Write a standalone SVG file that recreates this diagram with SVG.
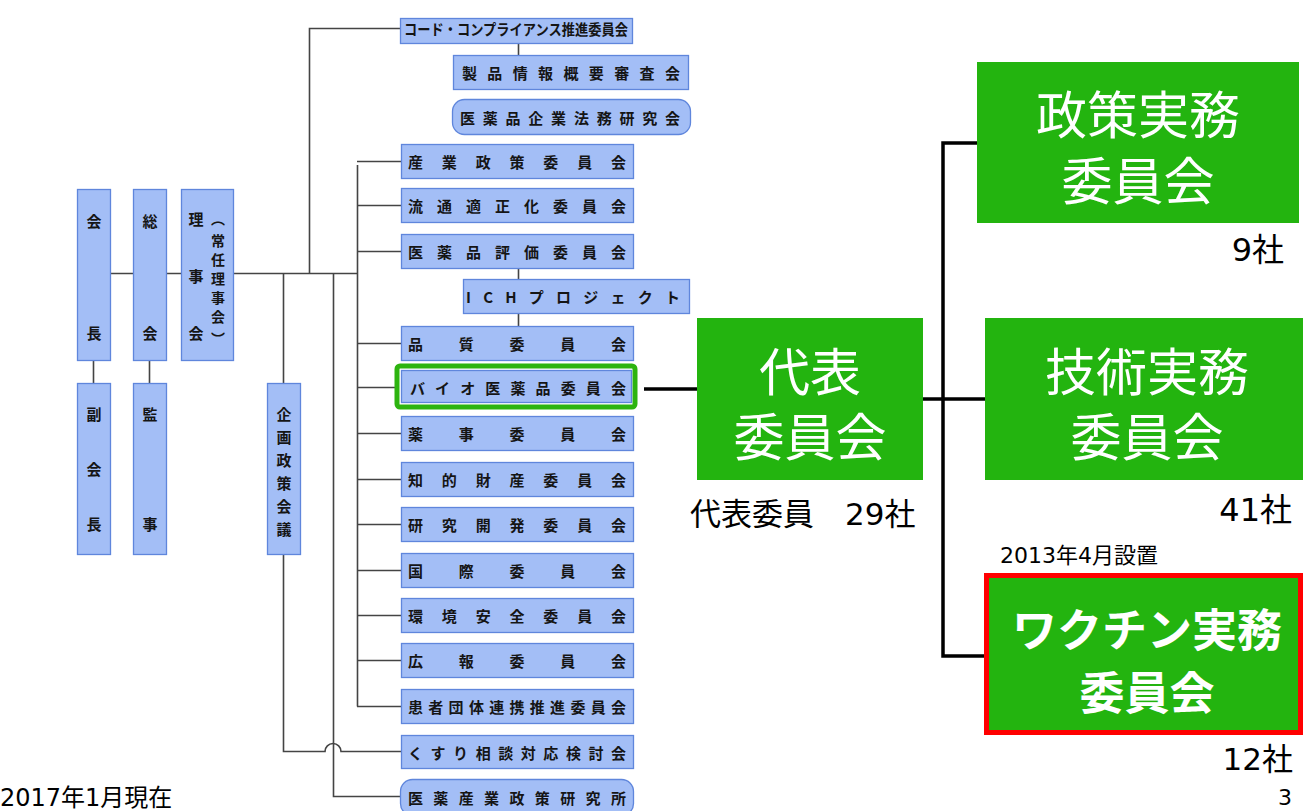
<svg xmlns="http://www.w3.org/2000/svg" width="1303" height="811" viewBox="0 0 1303 811">
<style>
.b{fill:#A3BEF6;stroke:#5F86DC;stroke-width:1.3}
.t{font-family:"Noto Sans CJK JP","Noto Sans",sans-serif;font-weight:bold;font-size:15px;fill:#151515;dominant-baseline:central}
.p{font-size:14px}
.v{text-anchor:middle}
.c{fill:none;stroke:#444;stroke-width:1.6}
.k{fill:none;stroke:#000;stroke-width:3.5}
.g{fill:#23B40F}
.w{font-family:"Noto Sans CJK JP","Noto Sans",sans-serif;font-size:51px;fill:#fff;text-anchor:middle;dominant-baseline:central}
.wb{font-size:45px;font-weight:bold}
.n{font-family:"DejaVu Sans","Noto Sans CJK JP",sans-serif;fill:#000;dominant-baseline:central}
</style>
<rect width="1303" height="811" fill="#fff"/>
<g id="connectors">
<path class="c" d="M111,273.5H357"/>
<path class="c" d="M93.5,361V383M149.5,361V383"/>
<path class="c" d="M309.5,273.5V28.5H400"/>
<path class="c" d="M518.5,43V55"/>
<path class="c" d="M357.5,165V706.5"/>
<path class="c" d="M357,161.5H401M357,205.5H401M357,251.5H401M357,343.5H401M357,387.5H396M357,433.5H401M357,479.5H401M357,524.5H401M357,570.5H401M357,615.5H401M357,660.5H401M357,706.5H401"/>
<path class="c" d="M518.5,268V279M518.5,314V326"/>
<path class="c" d="M283.5,273.5V383M283.5,555V751.5H325A8,8 0 0 1 341,751.5H401"/>
<path class="c" d="M333.5,273.5V796.5H400"/>
<path class="k" d="M644,389H697"/>
<path class="k" d="M923,399H985"/>
<path class="k" d="M977,143H943V656H984"/>
</g>
<g id="kaicho"><rect class="b" x="77.5" y="189.5" width="33" height="171"/><text class="t v" x="94" y="220">会</text><text class="t v" x="94" y="332">長</text></g>
<g id="sokai"><rect class="b" x="133.5" y="189.5" width="33" height="171"/><text class="t v" x="150" y="220">総</text><text class="t v" x="150" y="332">会</text></g>
<g id="rijikai"><rect class="b" x="181.5" y="189.5" width="52" height="171"/><text class="t v" x="196" y="218">理</text><text class="t v" x="196" y="275">事</text><text class="t v" x="196" y="332">会</text>
<text class="t v p" x="218" y="218">︵</text><text class="t v p" x="218" y="240">常</text><text class="t v p" x="218" y="259">任</text><text class="t v p" x="218" y="278">理</text><text class="t v p" x="218" y="297">事</text><text class="t v p" x="218" y="316">会</text><text class="t v p" x="218" y="338">︶</text></g>
<g id="fukukaicho"><rect class="b" x="77.5" y="383.5" width="33" height="171"/><text class="t v" x="94" y="413">副</text><text class="t v" x="94" y="468">会</text><text class="t v" x="94" y="523">長</text></g>
<g id="kanji"><rect class="b" x="133.5" y="383.5" width="33" height="171"/><text class="t v" x="150" y="413">監</text><text class="t v" x="150" y="523">事</text></g>
<g id="kikaku"><rect class="b" x="267.5" y="383.5" width="33" height="171"/><text class="t v" x="284" y="413">企</text><text class="t v" x="284" y="436">画</text><text class="t v" x="284" y="459">政</text><text class="t v" x="284" y="482">策</text><text class="t v" x="284" y="505">会</text><text class="t v" x="284" y="528">議</text></g>
<g id="code"><rect class="b" x="400.5" y="18.5" width="232" height="25"/><text class="t" x="404" y="28" textLength="224" lengthAdjust="spacingAndGlyphs">コード・コンプライアンス推進委員会</text></g>
<g id="seihin"><rect class="b" x="453.5" y="55.5" width="235" height="34"/><text class="t" x="462" y="72" textLength="218" lengthAdjust="spacing">製品情報概要審査会</text></g>
<g id="homu"><rect class="b" x="452.5" y="99.5" width="238" height="35" rx="12"/><text class="t" x="460" y="117" textLength="220" lengthAdjust="spacing">医薬品企業法務研究会</text></g>
<g id="sangyo"><rect class="b" x="401.5" y="144.5" width="232" height="34"/><text class="t" x="408" y="161.5" textLength="218" lengthAdjust="spacing">産業政策委員会</text></g>
<g id="ryutsu"><rect class="b" x="401.5" y="188.5" width="232" height="34"/><text class="t" x="408" y="205.5" textLength="218" lengthAdjust="spacing">流通適正化委員会</text></g>
<g id="hyoka"><rect class="b" x="401.5" y="234.5" width="232" height="34"/><text class="t" x="408" y="251.5" textLength="218" lengthAdjust="spacing">医薬品評価委員会</text></g>
<g id="ich"><rect class="b" x="463.5" y="279.5" width="226" height="34"/><text class="t" x="466" y="296.5" textLength="214" lengthAdjust="spacing">ICHプロジェクト</text></g>
<g id="hinshitsu"><rect class="b" x="401.5" y="326.5" width="232" height="34"/><text class="t" x="408" y="343.5" textLength="218" lengthAdjust="spacing">品質委員会</text></g>
<g id="bio"><rect x="397" y="366" width="238" height="41" rx="3" fill="none" stroke="#2DB40F" stroke-width="5"/><rect class="b" x="401.5" y="370.5" width="230" height="32"/><text class="t" x="410" y="387" textLength="216" lengthAdjust="spacing">バイオ医薬品委員会</text></g>
<g id="yakuji"><rect class="b" x="401.5" y="416.5" width="232" height="34"/><text class="t" x="408" y="433.5" textLength="218" lengthAdjust="spacing">薬事委員会</text></g>
<g id="chiteki"><rect class="b" x="401.5" y="462.5" width="232" height="34"/><text class="t" x="408" y="479.5" textLength="218" lengthAdjust="spacing">知的財産委員会</text></g>
<g id="kenkyu"><rect class="b" x="401.5" y="507.5" width="232" height="34"/><text class="t" x="408" y="524.5" textLength="218" lengthAdjust="spacing">研究開発委員会</text></g>
<g id="kokusai"><rect class="b" x="401.5" y="553.5" width="232" height="34"/><text class="t" x="408" y="570.5" textLength="218" lengthAdjust="spacing">国際委員会</text></g>
<g id="kankyo"><rect class="b" x="401.5" y="598.5" width="232" height="34"/><text class="t" x="408" y="615.5" textLength="218" lengthAdjust="spacing">環境安全委員会</text></g>
<g id="koho"><rect class="b" x="401.5" y="643.5" width="232" height="34"/><text class="t" x="408" y="660.5" textLength="218" lengthAdjust="spacing">広報委員会</text></g>
<g id="kanja"><rect class="b" x="401.5" y="689.5" width="232" height="34"/><text class="t" x="408" y="706.5" textLength="218" lengthAdjust="spacing">患者団体連携推進委員会</text></g>
<g id="kusuri"><rect class="b" x="401.5" y="735.5" width="232" height="33"/><text class="t" x="408" y="752" textLength="218" lengthAdjust="spacing">くすり相談対応検討会</text></g>
<g id="seisakuken"><rect class="b" x="400.5" y="779.5" width="233" height="36" rx="12"/><text class="t" x="408" y="797" textLength="218" lengthAdjust="spacing">医薬産業政策研究所</text></g>
<g id="daihyo"><rect class="g" x="697" y="318" width="226" height="162"/><text class="w" x="810" y="369">代表</text><text class="w" x="810" y="434">委員会</text></g>
<text class="n" x="690" y="514" font-size="31">代表委員　29社</text>
<g id="seisaku"><rect class="g" x="977" y="62" width="322" height="161"/><text class="w" x="1138" y="112">政策実務</text><text class="w" x="1138" y="178">委員会</text></g>
<text class="n" x="1284" y="250" font-size="32" text-anchor="end">9社</text>
<g id="gijutsu"><rect class="g" x="985" y="318" width="318" height="162"/><text class="w" x="1147" y="369">技術実務</text><text class="w" x="1147" y="434">委員会</text></g>
<text class="n" x="1292" y="510" font-size="32" text-anchor="end">41社</text>
<text class="n" x="1000" y="555" font-size="22">2013年4月設置</text>
<g id="vaccine"><rect class="g" x="986.5" y="575.5" width="314" height="157" stroke="#F00" stroke-width="5"/><text class="w wb" x="1147" y="627">ワクチン実務</text><text class="w wb" x="1147" y="690">委員会</text></g>
<text class="n" x="1293" y="759" font-size="31" text-anchor="end">12社</text>
<text class="n" x="1292" y="797" font-size="22" text-anchor="end">3</text>
<text class="n" x="0" y="798" font-size="24">2017年1月現在</text>
</svg>
